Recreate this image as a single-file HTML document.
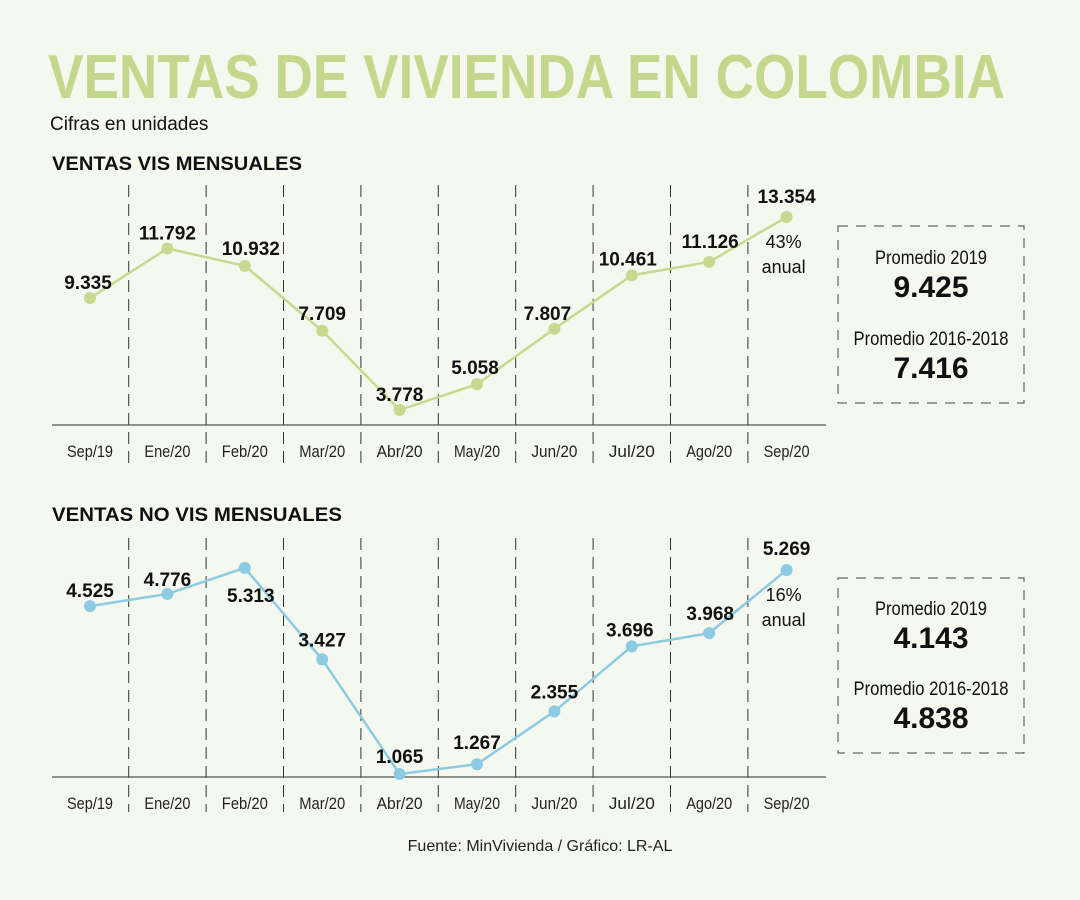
<!DOCTYPE html>
<html><head><meta charset="utf-8"><style>
body{margin:0;background:#f4f8ef;}
svg{display:block;font-family:"Liberation Sans Narrow","Liberation Sans",sans-serif;}
</style></head><body>
<svg width="1080" height="900" viewBox="0 0 1080 900" id="s">
<rect width="1080" height="900" fill="#f4f8ef"/>
<text x="48" y="98" font-family="Liberation Sans" font-weight="bold" font-size="62" fill="#c3d88c" textLength="957" lengthAdjust="spacingAndGlyphs">VENTAS DE VIVIENDA EN COLOMBIA</text>
<text x="50" y="130" font-family="Liberation Sans" font-size="19" fill="#111">Cifras en unidades</text>
<text x="52" y="170" font-family="Liberation Sans" font-weight="bold" font-size="19" fill="#111" textLength="250" lengthAdjust="spacingAndGlyphs">VENTAS VIS MENSUALES</text>
<text x="52" y="521" font-family="Liberation Sans" font-weight="bold" font-size="19" fill="#111" textLength="290" lengthAdjust="spacingAndGlyphs">VENTAS NO VIS MENSUALES</text>
<text x="540" y="851" text-anchor="middle" font-family="Liberation Sans" font-size="16" fill="#222">Fuente: MinVivienda / Gráfico: LR-AL</text>
<g id="g1"></g><g id="g2"></g>
<g>
<rect x="838" y="226" width="186" height="177" fill="none" stroke="#444" stroke-dasharray="10,8"/>
<text x="931" y="264" text-anchor="middle" font-size="19" fill="#111" textLength="112" lengthAdjust="spacingAndGlyphs">Promedio 2019</text>
<text x="931" y="297" text-anchor="middle" font-size="30" font-weight="bold" font-family="Liberation Sans" fill="#111">9.425</text>
<text x="931" y="345" text-anchor="middle" font-size="19" fill="#111" textLength="155" lengthAdjust="spacingAndGlyphs">Promedio 2016-2018</text>
<text x="931" y="378" text-anchor="middle" font-size="30" font-weight="bold" font-family="Liberation Sans" fill="#111">7.416</text>
</g>
<g>
<rect x="838" y="578" width="186" height="175" fill="none" stroke="#444" stroke-dasharray="10,8"/>
<text x="931" y="615" text-anchor="middle" font-size="19" fill="#111" textLength="112" lengthAdjust="spacingAndGlyphs">Promedio 2019</text>
<text x="931" y="648" text-anchor="middle" font-size="30" font-weight="bold" font-family="Liberation Sans" fill="#111">4.143</text>
<text x="931" y="695" text-anchor="middle" font-size="19" fill="#111" textLength="155" lengthAdjust="spacingAndGlyphs">Promedio 2016-2018</text>
<text x="931" y="728" text-anchor="middle" font-size="30" font-weight="bold" font-family="Liberation Sans" fill="#111">4.838</text>
</g>
</svg>
<script>
const categories=["Sep/19","Ene/20","Feb/20","Mar/20","Abr/20","May/20","Jun/20","Jul/20","Ago/20","Sep/20"];
const visValues=[9335,11792,10932,7709,3778,5058,7807,10461,11126,13354];
const noVisValues=[4525,4776,5313,3427,1065,1267,2355,3696,3968,5269];
const visLabels=["9.335","11.792","10.932","7.709","3.778","5.058","7.807","10.461","11.126","13.354"];
const noVisLabels=["4.525","4.776","5.313","3.427","1.065","1.267","2.355","3.696","3.968","5.269"];
const NS="http://www.w3.org/2000/svg";
function xs(i){return 90+i*77.4;}
function mk(tag,at,parent){const e=document.createElementNS(NS,tag);for(const k in at)e.setAttribute(k,at[k]);parent.appendChild(e);return e;}
function draw(gid,vals,labels,opt){
  const g=document.getElementById(gid);
  const y=v=>opt.y0-(v-opt.vmin)*opt.k;
  for(let i=0;i<9;i++){const d=mk('line',{x1:(xs(i)+xs(i+1))/2,x2:(xs(i)+xs(i+1))/2,y1:opt.top,y2:opt.bot,stroke:'#333','stroke-width':1,'stroke-dasharray':'12,7'},g);
    
    }
  const ax=mk('line',{x1:52,x2:826,y1:opt.axis,y2:opt.axis,stroke:'#555','stroke-width':1.2},g);
  
  
  categories.forEach((c,i)=>{const t=mk('text',{x:xs(i),y:opt.axis+32,'text-anchor':'middle','font-size':17,fill:'#222',textLength:46,lengthAdjust:'spacingAndGlyphs'},g);t.textContent=c;
    
    });
  const p=mk('polyline',{points:vals.map((v,i)=>xs(i)+','+y(v)).join(' '),fill:'none',stroke:opt.color,'stroke-width':2.5},g);
  
  
  vals.forEach((v,i)=>{const c=mk('circle',{cx:xs(i),cy:y(v),r:6,fill:opt.color},g);
    
    
    const o=opt.off[i];
    const t=mk('text',{x:xs(i)+o[0],y:y(v)+o[1],'text-anchor':'middle','font-size':19,'font-weight':'bold','font-family':'Liberation Sans',fill:'#111'},g);
    t.textContent=labels[i];
    
    });
  const last=y(vals[9]);
  const a=mk('text',{x:xs(9)-3,y:last+31,'text-anchor':'middle','font-size':18,fill:'#111'},g);a.textContent=opt.pct;
  
  
  const b=mk('text',{x:xs(9)-3,y:last+56,'text-anchor':'middle','font-size':18,fill:'#111'},g);b.textContent='anual';
  
  
}
const offTop=[[-2,-9],[0,-9],[6,-11],[0,-11],[0,-9],[-2,-10],[-7,-9],[-4,-10],[1,-14],[0,-14]];
const offBot=[[0,-9],[0,-8],[6,34],[0,-13],[0,-11],[0,-15],[0,-13],[-2,-10],[1,-13],[0,-15]];
draw('g1',visValues,visLabels,{y0:410,vmin:3778,k:0.02015,top:185,bot:465,axis:425,color:'#c5da8e',off:offTop,pct:'43%'});
draw('g2',noVisValues,noVisLabels,{y0:774,vmin:1065,k:0.04852,top:538,bot:812,axis:777,color:'#8ccbe3',off:offBot,pct:'16%'});
</script>
</body></html>
